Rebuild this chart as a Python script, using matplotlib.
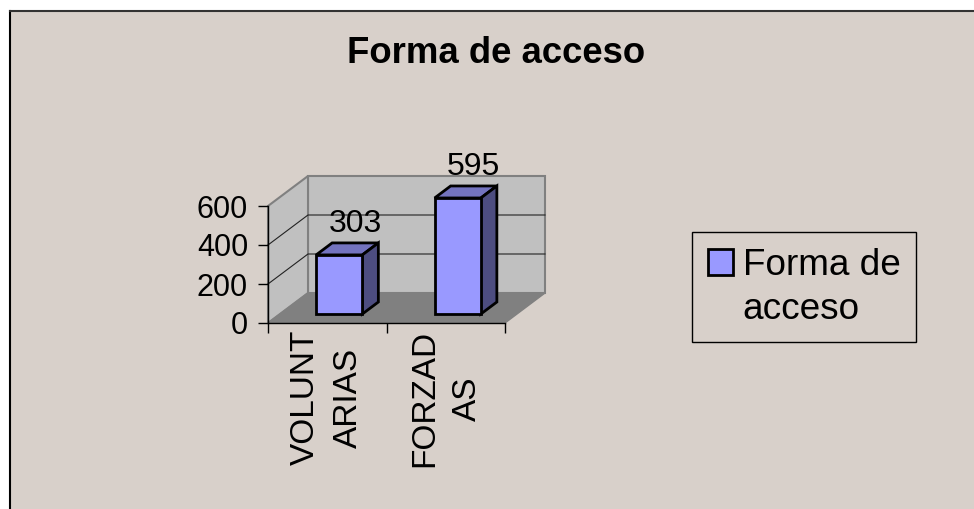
import matplotlib.pyplot as plt
from matplotlib.patches import Polygon, Rectangle, Patch
from matplotlib.lines import Line2D

# datos del grafico
categorias = ["VOLUNT\nARIAS", "FORZAD\nAS"]
valores = [303, 595]
titulo = "Forma de acceso"
serie = "Forma de acceso"
ticks_y = [0, 200, 400, 600]

FONDO = "#d8d0ca"
PARED = "#c0c0c0"
SUELO = "#808080"
BORDE = "#808080"
FRENTE = "#9999ff"
TAPA = "#7373bf"
LADO = "#4d4d80"

W, H = 974, 509
fig = plt.figure(figsize=(W / 100, H / 100), dpi=100, facecolor="white")
plt.rcParams['font.family'] = ['Liberation Sans', 'DejaVu Sans']

# fondo del area del grafico con borde arriba e izquierda
fig.add_artist(Rectangle((10 / W, 0), 1 - 10 / W, 1 - 10 / H, transform=fig.transFigure,
                         facecolor=FONDO, edgecolor="none", zorder=0))
fig.add_artist(Line2D([10 / W, 10 / W], [0, 1 - 10.5 / H], transform=fig.transFigure,
                      color="black", lw=1.5))
fig.add_artist(Line2D([10 / W, 1], [1 - 10.5 / H, 1 - 10.5 / H], transform=fig.transFigure,
                      color="#333333", lw=1.5))

fig.text(496 / W, 1 - 63 / H, titulo, ha="center", va="baseline",
         fontsize=26.3, fontweight="bold")

# ejes = plano frontal del cubo 3D
x0px, x1px, y0px = 268, 505, 323
ymax = 600
ax = fig.add_axes([x0px / W, 1 - y0px / H, (x1px - x0px) / W, 117 / H])
ax.set_xlim(0, len(categorias))
ax.set_ylim(0, ymax)
ax.patch.set_visible(False)
for s in ["top", "right"]:
    ax.spines[s].set_visible(False)
ax.spines["left"].set_linewidth(1.0)
ax.spines["bottom"].set_linewidth(1.0)
ax.spines["left"].set_zorder(6)
ax.spines["bottom"].set_zorder(6)

# vector de profundidad (en unidades de datos)
DX, DY = 40 / 118.5, 30 / (117 / ymax)
n = len(categorias)


def p(x, y, d):
    return (x + d * DX, y + d * DY)


# paredes y suelo
ax.add_patch(Polygon([p(0, 0, 1), p(n, 0, 1), p(n, ymax, 1), p(0, ymax, 1)],
                     closed=True, facecolor=PARED, edgecolor=BORDE, lw=1.5,
                     clip_on=False, zorder=1))
ax.add_patch(Polygon([p(0, 0, 0), p(0, 0, 1), p(0, ymax, 1), p(0, ymax, 0)],
                     closed=True, facecolor=PARED, edgecolor=BORDE, lw=1.5,
                     clip_on=False, zorder=1))
ax.add_patch(Polygon([p(0, 0, 0), p(n, 0, 0), p(n, 0, 1), p(0, 0, 1)],
                     closed=True, facecolor=SUELO, edgecolor=BORDE, lw=1.0,
                     clip_on=False, zorder=2))
for v in ticks_y[1:-1]:
    a, b, c = p(0, v, 0), p(0, v, 1), p(n, v, 1)
    ax.plot([a[0], b[0], c[0]], [a[1], b[1], c[1]], color="#222222", lw=0.8,
            clip_on=False, zorder=1.5)

# barras 3D
ancho, d0, d1 = 0.39, 0.3, 0.7
for i, v in enumerate(valores):
    xa = i + 0.5 - ancho / 2
    xb = xa + ancho
    ax.add_patch(Polygon([p(xa, 0, d0), p(xb, 0, d0), p(xb, v, d0), p(xa, v, d0)],
                         closed=True, facecolor=FRENTE, edgecolor="black", lw=2,
                         joinstyle="miter", clip_on=False, zorder=4))
    ax.add_patch(Polygon([p(xa, v, d0), p(xb, v, d0), p(xb, v, d1), p(xa, v, d1)],
                         closed=True, facecolor=TAPA, edgecolor="black", lw=2,
                         joinstyle="miter", clip_on=False, zorder=3))
    ax.add_patch(Polygon([p(xb, 0, d0), p(xb, 0, d1), p(xb, v, d1), p(xb, v, d0)],
                         closed=True, facecolor=LADO, edgecolor="black", lw=2,
                         joinstyle="miter", clip_on=False, zorder=3))
    ax.annotate(str(v), xy=p(i + 0.5, v, d1), xytext=(0, 3), textcoords="offset points",
                ha="center", va="bottom", fontsize=23, annotation_clip=False)

# ejes
ax.set_yticks(ticks_y)
ax.tick_params(axis="y", length=7.2, width=1, pad=7.2, labelsize=22)
ax.set_xticks([i + 0.5 for i in range(n)])
ax.set_xticklabels(categorias, rotation=90, fontsize=24, multialignment="center",
                   linespacing=1.5)
ax.set_xticks(range(n + 1), minor=True)
ax.tick_params(axis="x", which="major", length=0, pad=5)
ax.tick_params(axis="x", which="minor", length=7.2, width=1)

# leyenda
handles = [Patch(facecolor=FRENTE, edgecolor="black", lw=2),
           Patch(facecolor="none", edgecolor="none")]
leg = fig.legend(handles, ["Forma de", "acceso"], loc="upper left",
                 bbox_to_anchor=(692 / W, 1 - 232 / H), borderaxespad=0,
                 fontsize=26.6, handlelength=0.7, handleheight=0.7,
                 handletextpad=0.25, borderpad=0.42, labelspacing=0.25,
                 fancybox=False, framealpha=1, facecolor=FONDO, edgecolor="black")
leg.get_frame().set_linewidth(1.0)

fig.savefig("out.png", dpi=100, facecolor="white")
